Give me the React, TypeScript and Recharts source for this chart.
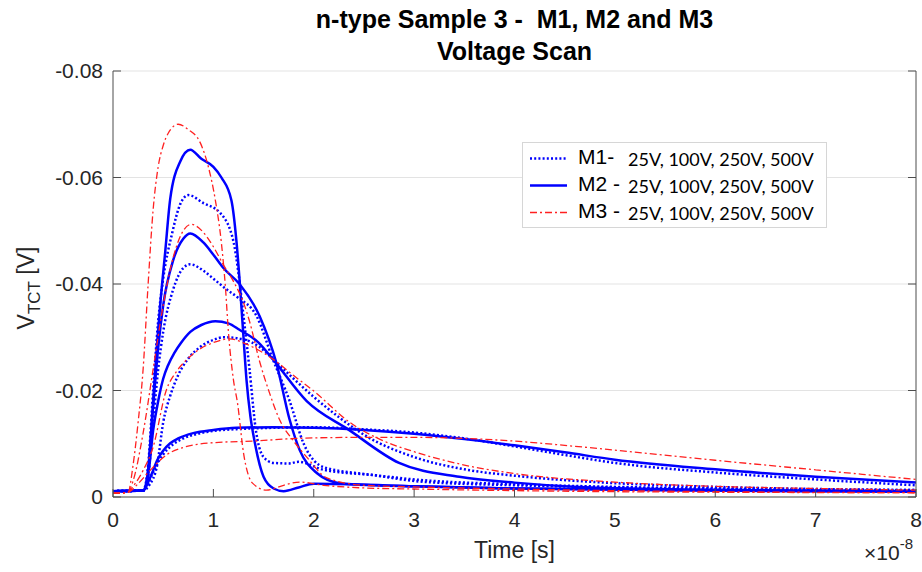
import { LineChart, Line, XAxis, YAxis, CartesianGrid } from 'recharts'

// time in units of 1e-8 s, signal in V
const X_TICKS = [0, 1, 2, 3, 4, 5, 6, 7, 8]
const Y_TICKS = [-0.08, -0.06, -0.04, -0.02, 0]

const M1_25V_T = [0, 0.3, 0.36, 0.42, 0.5, 0.6, 0.7, 0.85, 1.0, 1.3, 1.6, 2.0, 2.5, 3.0, 3.5, 4.0, 4.5, 5.0, 6.0, 7.0, 8.0]
const M1_25V_V = [-0.0011, -0.0012, -0.003, -0.0055, -0.008, -0.0099, -0.011, -0.0119, -0.0124, -0.0128, -0.013, -0.0131, -0.0127, -0.0121, -0.011, -0.0095, -0.0079, -0.0064, -0.0046, -0.0033, -0.0022]

const M2_25V_T = [0, 0.3, 0.35, 0.4, 0.44, 0.5, 0.57, 0.65, 0.8, 1.0, 1.23, 1.6, 2.0, 2.5, 3.0, 3.5, 4.0, 4.5, 5.0, 6.0, 7.0, 8.0]
const M2_25V_V = [-0.0011, -0.0012, -0.0028, -0.005, -0.0069, -0.0087, -0.0101, -0.011, -0.012, -0.0126, -0.013, -0.0131, -0.013, -0.0126, -0.0119, -0.0109, -0.0097, -0.0084, -0.007, -0.0052, -0.0038, -0.0027]

const M3_25V_T = [0, 0.15, 0.25, 0.37, 0.54, 0.7, 0.84, 1.0, 1.4, 1.73, 2.0, 2.5, 3.0, 3.5, 4.0, 4.5, 5.0, 6.0, 7.0, 8.0]
const M3_25V_V = [-0.0007, -0.0009, -0.0025, -0.005, -0.008, -0.0093, -0.0099, -0.0102, -0.0105, -0.0109, -0.0111, -0.0112, -0.0112, -0.011, -0.0105, -0.0097, -0.0088, -0.0069, -0.0051, -0.0033]

const M1_100V_T = [0, 0.3, 0.36, 0.44, 0.5, 0.57, 0.64, 0.75, 0.87, 1.0, 1.1, 1.3, 1.45, 1.6, 1.8, 2.0, 2.25, 2.5, 3.0, 3.5, 4.0, 5.0, 6.0, 7.0, 8.0]
const M1_100V_V = [-0.0011, -0.0012, -0.0022, -0.006, -0.014, -0.019, -0.0225, -0.026, -0.0282, -0.0295, -0.03, -0.0296, -0.0283, -0.0258, -0.0222, -0.0188, -0.015, -0.0117, -0.0075, -0.0052, -0.004, -0.0026, -0.0019, -0.0015, -0.0013]

const M2_100V_T = [0, 0.3, 0.35, 0.4, 0.45, 0.5, 0.55, 0.61, 0.68, 0.77, 0.88, 1.02, 1.15, 1.26, 1.45, 1.6, 1.93, 2.35, 2.85, 3.45, 4.0, 4.63, 5.8, 7.0, 8.0]
const M2_100V_V = [-0.0011, -0.0012, -0.004, -0.0125, -0.018, -0.0222, -0.0248, -0.027, -0.029, -0.031, -0.0323, -0.033, -0.0326, -0.0314, -0.029, -0.0257, -0.018, -0.0126, -0.0064, -0.0038, -0.0027, -0.0019, -0.0014, -0.0012, -0.0011]

const M3_100V_T = [0, 0.14, 0.22, 0.3, 0.4, 0.53, 0.63, 0.73, 0.85, 1.0, 1.16, 1.33, 1.6, 1.8, 2.0, 2.36, 2.7, 3.0, 3.5, 4.0, 5.0, 6.0, 7.0, 8.0]
const M3_100V_V = [-0.0007, -0.0008, -0.0025, -0.005, -0.0094, -0.02, -0.0235, -0.0257, -0.0276, -0.029, -0.0297, -0.0287, -0.0258, -0.0228, -0.0199, -0.014, -0.0105, -0.0085, -0.006, -0.0044, -0.0028, -0.002, -0.0016, -0.0013]

const M1_250V_T = [0, 0.3, 0.35, 0.4, 0.45, 0.5, 0.6, 0.7, 0.77, 0.9, 1.0, 1.13, 1.24, 1.43, 1.59, 1.76, 1.9, 2.1, 2.6, 3.06, 4.0, 5.0, 6.0, 8.0]
const M1_250V_V = [-0.0011, -0.0012, -0.004, -0.014, -0.024, -0.031, -0.039, -0.043, -0.0437, -0.0425, -0.041, -0.039, -0.0375, -0.034, -0.026, -0.018, -0.01, -0.0056, -0.0041, -0.0029, -0.0022, -0.0018, -0.0015, -0.0012]

const M2_250V_T = [0, 0.3, 0.35, 0.4, 0.45, 0.5, 0.6, 0.7, 0.77, 0.9, 1.0, 1.1, 1.26, 1.46, 1.63, 1.76, 1.86, 2.03, 2.26, 2.6, 3.0, 4.0, 5.0, 6.0, 8.0]
const M2_250V_V = [-0.0011, -0.0012, -0.005, -0.017, -0.028, -0.036, -0.0445, -0.0485, -0.0495, -0.0478, -0.0455, -0.043, -0.04, -0.034, -0.025, -0.0145, -0.0088, -0.0045, -0.0026, -0.0022, -0.002, -0.0016, -0.0014, -0.0012, -0.0011]

const M3_250V_T = [0, 0.15, 0.2, 0.3, 0.4, 0.5, 0.6, 0.7, 0.78, 0.9, 1.0, 1.1, 1.2, 1.3, 1.36, 1.46, 1.56, 1.66, 1.8, 1.93, 2.13, 2.5, 3.0, 4.0, 5.0, 6.0, 8.0]
const M3_250V_V = [-0.0007, -0.0009, -0.003, -0.012, -0.024, -0.036, -0.045, -0.05, -0.0512, -0.0497, -0.047, -0.0436, -0.0405, -0.0365, -0.033, -0.0255, -0.0195, -0.0145, -0.0105, -0.0075, -0.0036, -0.0022, -0.0019, -0.0015, -0.0012, -0.001, -0.0008]

const M1_500V_T = [0, 0.3, 0.35, 0.4, 0.45, 0.5, 0.59, 0.67, 0.75, 0.9, 1.07, 1.2, 1.25, 1.3, 1.36, 1.42, 1.5, 1.6, 1.75, 1.85, 2.1, 2.6, 3.06, 4.0, 5.0, 6.0, 8.0]
const M1_500V_V = [-0.0011, -0.0012, -0.006, -0.02, -0.033, -0.041, -0.0496, -0.055, -0.0567, -0.0552, -0.0533, -0.048, -0.042, -0.034, -0.024, -0.013, -0.0075, -0.0064, -0.0063, -0.0066, -0.0051, -0.0041, -0.0032, -0.0024, -0.0019, -0.0016, -0.0013]

const M2_500V_T = [0, 0.3, 0.35, 0.4, 0.44, 0.47, 0.52, 0.57, 0.67, 0.77, 0.88, 1.0, 1.08, 1.18, 1.23, 1.26, 1.3, 1.33, 1.37, 1.41, 1.5, 1.6, 1.7, 1.85, 2.0, 2.4, 3.0, 4.0, 5.0, 6.0, 8.0]
const M2_500V_V = [-0.0011, -0.0012, -0.005, -0.018, -0.029, -0.036, -0.046, -0.056, -0.063, -0.0652, -0.0635, -0.062, -0.06, -0.0557, -0.048, -0.041, -0.03, -0.022, -0.015, -0.0105, -0.0038, -0.0016, -0.0011, -0.0018, -0.0025, -0.0024, -0.002, -0.0016, -0.0014, -0.0012, -0.001]

const M3_500V_T = [0, 0.15, 0.2, 0.25, 0.3, 0.35, 0.4, 0.45, 0.5, 0.55, 0.65, 0.75, 0.87, 0.95, 1.02, 1.08, 1.12, 1.15, 1.2, 1.24, 1.3, 1.39, 1.53, 1.7, 1.86, 2.1, 2.5, 3.0, 4.0, 5.0, 6.0, 8.0]
const M3_500V_V = [-0.0007, -0.0009, -0.006, -0.014, -0.024, -0.04, -0.054, -0.062, -0.066, -0.0683, -0.07, -0.069, -0.0665, -0.062, -0.0557, -0.0477, -0.0394, -0.031, -0.022, -0.0177, -0.0083, -0.0026, -0.0013, -0.0022, -0.0028, -0.0022, -0.0017, -0.0015, -0.0012, -0.001, -0.0009, -0.0008]

const LEGEND_NAMES = ['M1-', 'M2 -', 'M3 -']
const LEGEND_VOLTS = '25V, 100V, 250V, 500V'

const STYLES: Record<string, { stroke: string; strokeWidth: number; strokeDasharray?: string }> = {
  M1: { stroke: '#0000ff', strokeWidth: 2.5, strokeDasharray: '2 2.2' },
  M2: { stroke: '#0000ff', strokeWidth: 2.5 },
  M3: { stroke: '#ff2020', strokeWidth: 1.3, strokeDasharray: '7 3 2 3' },
}

const SERIES = [
  { id: 'm1_25', group: 'M1', t: M1_25V_T, v: M1_25V_V },
  { id: 'm1_100', group: 'M1', t: M1_100V_T, v: M1_100V_V },
  { id: 'm1_250', group: 'M1', t: M1_250V_T, v: M1_250V_V },
  { id: 'm1_500', group: 'M1', t: M1_500V_T, v: M1_500V_V },
  { id: 'm2_25', group: 'M2', t: M2_25V_T, v: M2_25V_V },
  { id: 'm2_100', group: 'M2', t: M2_100V_T, v: M2_100V_V },
  { id: 'm2_250', group: 'M2', t: M2_250V_T, v: M2_250V_V },
  { id: 'm2_500', group: 'M2', t: M2_500V_T, v: M2_500V_V },
  { id: 'm3_25', group: 'M3', t: M3_25V_T, v: M3_25V_V },
  { id: 'm3_100', group: 'M3', t: M3_100V_T, v: M3_100V_V },
  { id: 'm3_250', group: 'M3', t: M3_250V_T, v: M3_250V_V },
  { id: 'm3_500', group: 'M3', t: M3_500V_T, v: M3_500V_V },
]

const toPoints = (t: number[], v: number[]) => t.map((x, i) => ({ t: x, v: v[i] }))

const W = 922
const H = 572
const AXIS = '#262626'
const AXIS_LINE = '#4d4d4d'
const FONT = "'Liberation Sans', Arial, Helvetica, sans-serif"
const TL = 8 // inward tick length
const TM = 10 // tick label gap

const LeftTick = (props: any) => {
  const { x, y, payload } = props
  const ax = x + TM
  return (
    <g>
      <line x1={ax} x2={ax + TL} y1={y} y2={y} stroke={AXIS_LINE} />
      <text x={x} y={y} dy={7} textAnchor="end" fontSize={21} fontFamily={FONT} fill={AXIS}>
        {payload.value === 0 ? '0' : payload.value.toFixed(2)}
      </text>
    </g>
  )
}

const RightTick = (props: any) => {
  const { x, y } = props
  const ax = x - TM
  return <line x1={ax} x2={ax - TL} y1={y} y2={y} stroke={AXIS_LINE} />
}

const BottomTick = (props: any) => {
  const { x, y, payload } = props
  const ay = y - TM
  return (
    <g>
      <line x1={x} x2={x} y1={ay} y2={ay - TL} stroke={AXIS_LINE} />
      <text x={x} y={ay + 30} textAnchor="middle" fontSize={21} fontFamily={FONT} fill={AXIS}>
        {String(payload.value)}
      </text>
    </g>
  )
}

const TopTick = (props: any) => {
  const { x, y } = props
  const ay = y + TM
  return <line x1={x} x2={x} y1={ay} y2={ay + TL} stroke={AXIS_LINE} />
}

const XLabel = (props: any) => {
  const vb = props.viewBox
  const cx = vb.x + vb.width / 2
  const base = vb.y + 61
  const rx = vb.x + vb.width - 3
  return (
    <g fontFamily={FONT} fill={AXIS}>
      <text x={cx} y={base} textAnchor="middle" fontSize={23}>
        Time [s]
      </text>
      <text x={rx} y={base + 2} textAnchor="end" fontSize={21}>
        ×10<tspan dy={-11} fontSize={15}>-8</tspan>
      </text>
    </g>
  )
}

const YLabel = (props: any) => {
  const vb = props.viewBox
  const cx = vb.x + 34
  const cy = vb.y + vb.height / 2 + 4
  return (
    <text
      x={cx}
      y={cy}
      transform={`rotate(-90 ${cx} ${cy})`}
      textAnchor="middle"
      fontFamily={FONT}
      fontSize={23}
      fill={AXIS}
    >
      V<tspan dy={6} fontSize={17}>TCT</tspan>
      <tspan dy={-6}> [V]</tspan>
    </text>
  )
}

function LegendBox() {
  return (
    <div
      style={{
        position: 'absolute',
        left: 522,
        top: 142,
        width: 303,
        height: 84,
        border: '1px solid #d6d6d6',
        background: '#fff',
      }}
    >
      {LEGEND_NAMES.map((name, i) => {
        const s = STYLES['M' + (i + 1)]
        return (
          <div key={name} style={{ position: 'absolute', left: 0, top: 2 + i * 27, height: 27, width: 303 }}>
            <svg width={44} height={27} style={{ position: 'absolute', left: 6, top: 0 }}>
              <line
                x1={1}
                x2={38}
                y1={13.5}
                y2={13.5}
                stroke={s.stroke}
                strokeWidth={s.strokeWidth}
                strokeDasharray={s.strokeDasharray}
              />
            </svg>
            <span
              style={{
                position: 'absolute',
                left: 55,
                top: 0,
                fontFamily: FONT,
                fontSize: 21,
                color: '#000',
                whiteSpace: 'pre',
              }}
            >
              {name}
            </span>
            <span
              style={{
                position: 'absolute',
                left: 105,
                top: 3,
                fontFamily: "Lato, 'Open Sans', sans-serif",
                fontSize: 18,
                color: '#000',
                whiteSpace: 'pre',
              }}
            >
              {LEGEND_VOLTS}
            </span>
          </div>
        )
      })}
    </div>
  )
}

export default function App() {
  return (
    <div style={{ position: 'absolute', left: 0, top: 0, width: W, height: H, background: '#fff' }}>
      <LineChart width={W} height={H} margin={{ top: 71, right: 0, bottom: 45, left: 0 }}>
        <CartesianGrid vertical={false} stroke="#e3e3e3" />
        <XAxis
          dataKey="t"
          type="number"
          domain={[0, 8]}
          ticks={X_TICKS}
          allowDataOverflow
          height={30}
          tickSize={0}
          tickMargin={TM}
          tickLine={false}
          axisLine={{ stroke: AXIS_LINE }}
          tick={BottomTick}
          label={XLabel}
        />
        <XAxis
          xAxisId="top"
          orientation="top"
          type="number"
          domain={[0, 8]}
          ticks={X_TICKS}
          allowDataOverflow
          height={0}
          tickSize={0}
          tickMargin={TM}
          tickLine={false}
          axisLine={{ stroke: AXIS_LINE }}
          tick={TopTick}
        />
        <YAxis
          type="number"
          domain={[-0.08, 0]}
          reversed
          ticks={Y_TICKS}
          allowDataOverflow
          width={113}
          tickSize={0}
          tickMargin={TM}
          tickLine={false}
          axisLine={{ stroke: AXIS_LINE }}
          tick={LeftTick}
          label={YLabel}
        />
        <YAxis
          yAxisId="right"
          orientation="right"
          type="number"
          domain={[-0.08, 0]}
          reversed
          ticks={Y_TICKS}
          allowDataOverflow
          width={6}
          tickSize={0}
          tickMargin={TM}
          tickLine={false}
          axisLine={{ stroke: AXIS_LINE }}
          tick={RightTick}
        />
        {SERIES.map((s) => (
          <Line
            key={s.id}
            data={toPoints(s.t, s.v)}
            dataKey="v"
            type="monotone"
            dot={false}
            activeDot={false}
            isAnimationActive={false}
            {...STYLES[s.group]}
          />
        ))}
      </LineChart>
      <div
        style={{
          position: 'absolute',
          left: 113,
          top: 3,
          width: 803,
          textAlign: 'center',
          fontFamily: FONT,
          fontWeight: 'bold',
          fontSize: 25,
          lineHeight: '32px',
          color: '#000',
          whiteSpace: 'pre',
        }}
      >
        {'n-type Sample 3 -  M1, M2 and M3\nVoltage Scan'}
      </div>
      <LegendBox />
    </div>
  )
}
